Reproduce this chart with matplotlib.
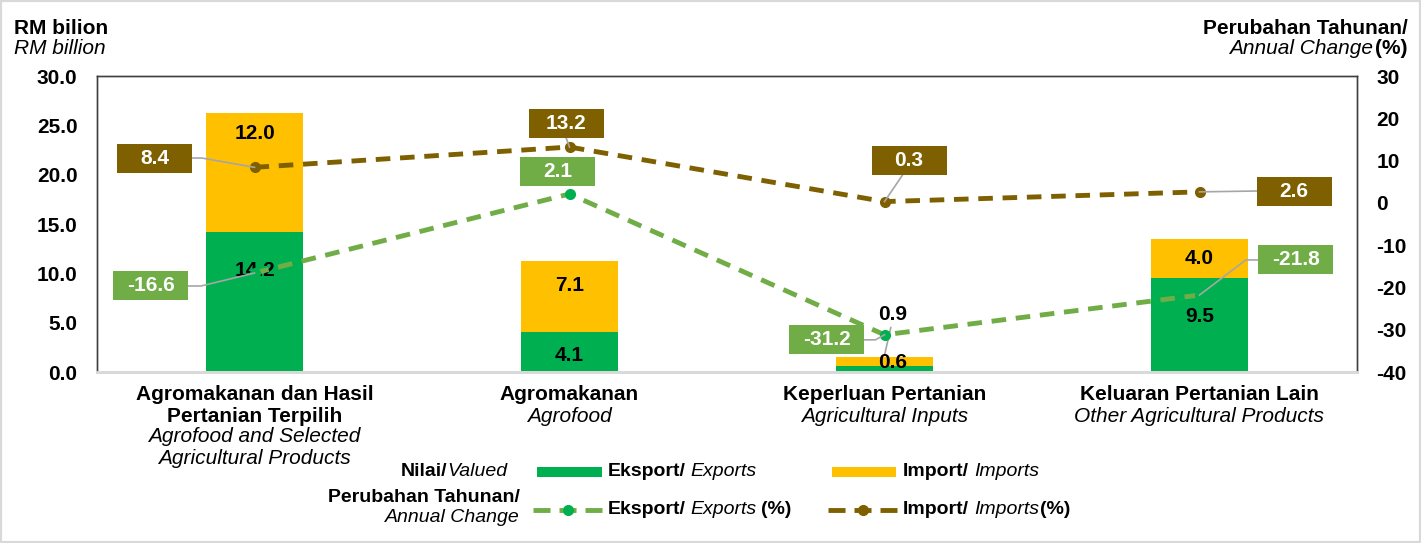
import matplotlib
matplotlib.use("Agg")
import matplotlib.pyplot as plt
import matplotlib.patches as mpatches
import matplotlib.transforms as mtransforms
from matplotlib.lines import Line2D
import numpy as np

plt.rcParams['font.family'] = ['Liberation Sans', 'DejaVu Sans']
plt.rcParams['axes.unicode_minus'] = False

# data
categories_bm = [["Agromakanan dan Hasil", "Pertanian Terpilih"], ["Agromakanan"],
                 ["Keperluan Pertanian"], ["Keluaran Pertanian Lain"]]
categories_en = [["Agrofood and Selected", "Agricultural Products"], ["Agrofood"],
                 ["Agricultural Inputs"], ["Other Agricultural Products"]]
exports = [14.2, 4.1, 0.6, 9.5]
imports = [12.0, 7.1, 0.9, 4.0]
export_change = [-16.6, 2.1, -31.2, -21.8]
import_change = [8.4, 13.2, 0.3, 2.6]

# label placement (value-axis positions of bar labels, box centres for change labels)
exp_lab_y = [10.3, 1.7, 1.0, 5.6]
imp_lab_y = [24.2, 8.8, 5.8, 11.5]
bar_lab_dx = [0, 0, 0.025, 0]
imp_box = [(-0.316, 10.6), (0.99, 18.65), (2.078, 10.1), (3.30, 2.8)]
exp_box = [(-0.329, -19.66), (0.963, 7.3), (1.817, -32.4), (3.306, -13.5)]

GREEN = '#00B050'
YELLOW = '#FFC000'
LGREEN = '#70AD47'
BROWN = '#7F6000'
LEADER = '#A6A6A6'

W, H = 1421, 543
fig = plt.figure(figsize=(W / 100, H / 100), dpi=100)
ax = fig.add_axes([97 / W, 1 - 372 / H, (1357 - 97) / W, (372 - 76) / H])
ax2 = ax.twinx()

x = np.arange(len(exports))
bw = 0.31
ax.bar(x, exports, bw, color=GREEN, zorder=2)
ax.bar(x, imports, bw, bottom=exports, color=YELLOW, zorder=2)

for i in x:
    ax.text(i + bar_lab_dx[i], exp_lab_y[i], f"{exports[i]:.1f}", ha='center', va='center',
            fontsize=15, fontweight='bold', color='black', zorder=5)
    ax.text(i + bar_lab_dx[i], imp_lab_y[i], f"{imports[i]:.1f}", ha='center', va='center',
            fontsize=15, fontweight='bold', color='black', zorder=5)
# small leader for the tiny bar labels
ax.plot([2.02, 2.0], [4.5, 1.7], color=LEADER, lw=1.2, zorder=4)

ax.set_xlim(-0.5, 3.5)
ax.set_ylim(0, 30)
ax.set_yticks(np.arange(0, 30.1, 5))
ax.set_yticklabels([f"{v:.1f}" for v in np.arange(0, 30.1, 5)])
ax.set_xticks([])
ax2.set_ylim(-40, 30)
ax2.set_yticks(np.arange(-40, 31, 10))

for a in (ax, ax2):
    a.tick_params(axis='y', length=0, labelsize=15, pad=14)
    for lab in a.get_yticklabels():
        lab.set_fontweight('bold')
    for s in ('left', 'right', 'top'):
        a.spines[s].set_color('#404040')
        a.spines[s].set_linewidth(1.0)
    a.spines['bottom'].set_color('#D9D9D9')
    a.spines['bottom'].set_linewidth(2)

# change lines on right axis
ax2.plot(x, import_change, color=BROWN, lw=3.5, dashes=(3, 2), marker='o', ms=7,
         mfc=BROWN, mec=BROWN, zorder=3)
ax2.plot(x, export_change, color=LGREEN, lw=3.5, dashes=(3, 2), marker='o', ms=7,
         mfc=GREEN, mec=GREEN, zorder=3)

bx_w = 75 / 315
bx_h = 29 * 70 / 296


def box_label(cx, cy, val, color):
    ax2.add_patch(mpatches.Rectangle((cx - bx_w / 2, cy - bx_h / 2), bx_w, bx_h,
                                     facecolor=color, edgecolor='none', zorder=6))
    ax2.text(cx, cy, f"{val:.1f}", ha='center', va='center', color='white',
             fontsize=15, fontweight='bold', zorder=7)


def leader(pts):
    xs, ys = zip(*pts)
    ax2.plot(xs, ys, color=LEADER, lw=1.2, zorder=4)


for i in x:
    box_label(imp_box[i][0], imp_box[i][1], import_change[i], BROWN)
    box_label(exp_box[i][0], exp_box[i][1], export_change[i], LGREEN)

# leader lines box -> point
leader([(imp_box[0][0] + bx_w / 2, imp_box[0][1]), (imp_box[0][0] + bx_w / 2 + 0.03, imp_box[0][1]),
        (0, import_change[0])])
leader([(exp_box[0][0] + bx_w / 2, exp_box[0][1]), (exp_box[0][0] + bx_w / 2 + 0.04, exp_box[0][1]),
        (0, export_change[0])])
leader([(imp_box[1][0], imp_box[1][1] - bx_h / 2), (1, import_change[1])])
leader([(imp_box[2][0] - 0.02, imp_box[2][1] - bx_h / 2), (2, import_change[2])])
leader([(3, import_change[3]), (imp_box[3][0] - bx_w / 2, imp_box[3][1])])
leader([(exp_box[3][0] - bx_w / 2, exp_box[3][1]), (exp_box[3][0] - bx_w / 2 - 0.04, exp_box[3][1]),
        (3, export_change[3])])
leader([(exp_box[2][0] + bx_w / 2, exp_box[2][1]), (exp_box[2][0] + bx_w / 2 + 0.035, exp_box[2][1]),
        (2, export_change[2])])

# category labels below the axis
tr = mtransforms.blended_transform_factory(ax.transData, fig.transFigure)
for i in x:
    yy = 395
    for line in categories_bm[i]:
        fig.text(i, 1 - yy / H, line, transform=tr, ha='center', va='center',
                 fontsize=15, fontweight='bold')
        yy += 21
    for line in categories_en[i]:
        fig.text(i, 1 - yy / H, line, transform=tr, ha='center', va='center',
                 fontsize=15, fontstyle='italic')
        yy += 21

renderer = fig.canvas.get_renderer()


def rich(px, py, parts, ha='left', size=14):
    # parts: (text, weight, style, gap_after_px)
    objs = []
    total = 0
    for s, wt, st, gap in parts:
        t = fig.text(0, 0, s, fontsize=size, fontweight=wt, fontstyle=st, va='center')
        w = t.get_window_extent(renderer).width
        objs.append((t, w, gap))
        total += w + gap
    start = px - total if ha == 'right' else px
    for t, w, gap in objs:
        t.set_position((start / W, 1 - py / H))
        start += w + gap


# axis titles
fig.text(14 / W, 1 - 28 / H, "RM bilion", fontsize=15, fontweight='bold', va='center')
fig.text(14 / W, 1 - 49 / H, "RM billion", fontsize=15, fontstyle='italic', va='center')
fig.text(1408 / W, 1 - 28 / H, "Perubahan Tahunan/", fontsize=15, fontweight='bold',
         va='center', ha='right')
rich(1408, 49, [("Annual Change", 'normal', 'italic', 2), ("(%)", 'bold', 'normal', 0)],
     ha='right', size=15)

# legend
rich(507, 472, [("Nilai/", 'bold', 'normal', 0), ("Valued", 'normal', 'italic', 0)], ha='right')
fig.text(520 / W, 1 - 498 / H, "Perubahan Tahunan/", fontsize=14, fontweight='bold',
         va='center', ha='right')
fig.text(520 / W, 1 - 517 / H, "Annual Change", fontsize=14, fontstyle='italic',
         va='center', ha='right')

fig.patches.append(mpatches.Rectangle((537 / W, 1 - 477 / H), 65 / W, 10 / H, facecolor=GREEN,
                                      transform=fig.transFigure, figure=fig))
fig.patches.append(mpatches.Rectangle((832 / W, 1 - 477 / H), 64 / W, 10 / H, facecolor=YELLOW,
                                      transform=fig.transFigure, figure=fig))
rich(608, 472, [("Eksport/", 'bold', 'normal', 5), ("Exports", 'normal', 'italic', 0)])
rich(903, 472, [("Import/", 'bold', 'normal', 5), ("Imports", 'normal', 'italic', 0)])

for x0, col, mc in ((533, LGREEN, GREEN), (828, BROWN, BROWN)):
    fig.lines.append(Line2D([x0 / W, (x0 + 69) / W], [1 - 510 / H] * 2, color=col, lw=3.5,
                            dashes=(3.5, 1.85), transform=fig.transFigure, figure=fig))
    fig.lines.append(Line2D([(x0 + 34.5) / W], [1 - 510 / H], color=mc, marker='o', ms=7,
                            transform=fig.transFigure, figure=fig))
rich(608, 510, [("Eksport/", 'bold', 'normal', 5), ("Exports", 'normal', 'italic', 4),
                ("(%)", 'bold', 'normal', 0)])
rich(903, 510, [("Import/", 'bold', 'normal', 5), ("Imports", 'normal', 'italic', 1),
                ("(%)", 'bold', 'normal', 0)])

# outer light border
fig.patches.append(mpatches.Rectangle((0, 0), 1, 1, fill=False, edgecolor='#D9D9D9', lw=3,
                                      transform=fig.transFigure, figure=fig))

fig.savefig("out.png", dpi=100)
